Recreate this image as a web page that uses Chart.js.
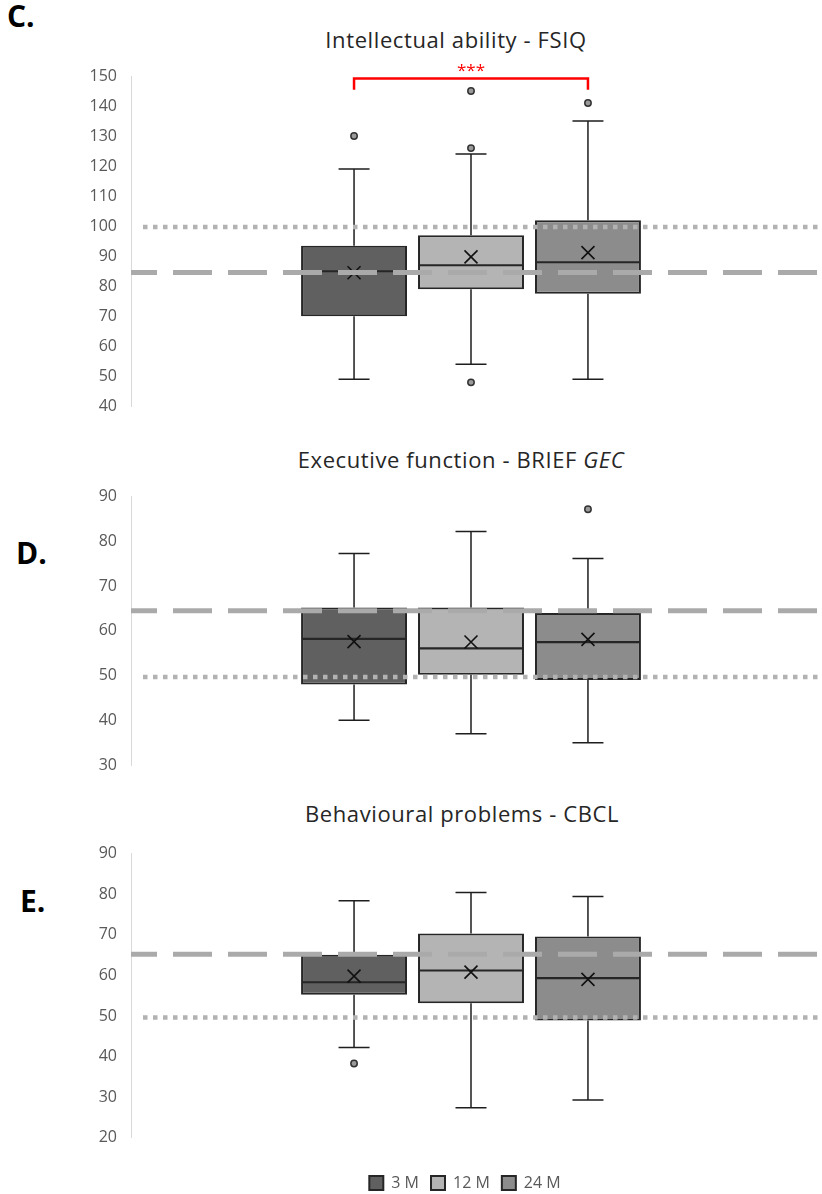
<!DOCTYPE html>
<html><head><meta charset="utf-8">
<script src="https://cdn.jsdelivr.net/npm/chart.js@4.4.1/dist/chart.umd.min.js"></script>
<style>
html,body{margin:0;padding:0;width:822px;height:1194px;overflow:hidden;background:#fff;}
.cv{position:absolute;left:0;}
.ttl{position:absolute;font-family:'Open Sans',sans-serif;font-size:22px;line-height:22px;color:#262626;white-space:nowrap;transform:translateX(-50%);letter-spacing:0.6px;}
.lbl{position:absolute;font-family:'Open Sans',sans-serif;font-weight:700;font-size:30px;line-height:30px;color:#000;}
</style></head><body>
<div class="lbl" style="left:7px;top:1px">C.</div>
<div class="lbl" style="left:16px;top:538px">D.</div>
<div class="lbl" style="left:20px;top:886px">E.</div>
<div class="ttl" style="left:456px;top:28px">Intellectual ability - FSIQ</div>
<div class="ttl" style="left:461px;top:448px">Executive function - BRIEF <i>GEC</i></div>
<div class="ttl" style="left:462px;top:802px">Behavioural problems - CBCL</div>
<canvas id="cC" class="cv" width="822" height="380" style="top:50px"></canvas>
<canvas id="cD" class="cv" width="822" height="320" style="top:470px"></canvas>
<canvas id="cE" class="cv" width="822" height="380" style="top:830px"></canvas>
<script>
// ---------- data ----------
const groups = ['3 M', '12 M', '24 M'];

// C. Intellectual ability - FSIQ
const fsiqTicks = [40, 50, 60, 70, 80, 90, 100, 110, 120, 130, 140, 150];
const fsiqMin = [49, 54, 49];
const fsiqQ1 = [70, 79, 77.5];
const fsiqMedian = [85, 87, 88];
const fsiqQ3 = [93.5, 97, 102];
const fsiqMax = [119, 124, 135];
const fsiqMean = [84.5, 89.8, 91.2];
const fsiqOutliers = [[130], [145, 126, 48], [141]];
const fsiqDotted = 99.7;
const fsiqDashed = 84.6;

// D. Executive function - BRIEF GEC
const briefTicks = [30, 40, 50, 60, 70, 80, 90];
const briefMin = [40, 37, 35];
const briefQ1 = [48, 50.2, 49];
const briefMedian = [58.2, 56.1, 57.5];
const briefQ3 = [65.2, 65.2, 64];
const briefMax = [77.3, 82.2, 76.2];
const briefMean = [57.6, 57.5, 58.1];
const briefOutliers = [[], [], [87.2]];
const briefDotted = 49.7;
const briefDashed = 64.5;

// E. Behavioural problems - CBCL
const cbclTicks = [20, 30, 40, 50, 60, 70, 80, 90];
const cbclMin = [42.2, 27.4, 29.3];
const cbclQ1 = [55.2, 53.1, 48.9];
const cbclMedian = [58.3, 61.2, 59.3];
const cbclQ3 = [65.1, 70.3, 69.6];
const cbclMax = [78.4, 80.4, 79.4];
const cbclMean = [59.8, 60.8, 59.0];
const cbclOutliers = [[38.3], [], []];
const cbclDotted = 49.6;
const cbclDashed = 65.2;

// significance bracket (C): between 3 M and 24 M
const sigPair = [0, 2];
const sigLabel = '***';

// ---------- styles ----------
const FILLS = ['#606060', '#b4b4b4', '#8c8c8c'];
const EDGE = '#262626';
const FONT = "'Open Sans', sans-serif";

function boxPlugin(st) {
  return {
    id: 'boxExtras',
    beforeDraw(chart) {
      // nudge the legend a little left, as in the reference
      const lg = chart.legend;
      if (lg && lg.options.display && !lg._nudged) {
        lg.left -= 6; lg.right -= 6; lg._nudged = true;
      }
    },
    afterDatasetsDraw(chart) {
      const ctx = chart.ctx, ys = chart.scales.y, ca = chart.chartArea;
      const Y = v => ys.getPixelForValue(v);
      const CAP = 15.5;
      ctx.save();
      st.q1.forEach((_, i) => {
        const bar = chart.getDatasetMeta(i).data[0];
        const x = bar.x, hw = bar.width / 2;
        ctx.setLineDash([]);
        ctx.strokeStyle = '#1e1e1e';
        ctx.lineWidth = 1.5;
        ctx.beginPath();
        ctx.moveTo(x, Y(st.q3[i])); ctx.lineTo(x, Y(st.max[i]));
        ctx.moveTo(x - CAP, Y(st.max[i])); ctx.lineTo(x + CAP, Y(st.max[i]));
        ctx.moveTo(x, Y(st.q1[i])); ctx.lineTo(x, Y(st.min[i]));
        ctx.moveTo(x - CAP, Y(st.min[i])); ctx.lineTo(x + CAP, Y(st.min[i]));
        ctx.stroke();
        // median
        ctx.strokeStyle = EDGE;
        ctx.lineWidth = 2.2;
        ctx.beginPath();
        ctx.moveTo(x - hw + 1, Y(st.median[i])); ctx.lineTo(x + hw - 1, Y(st.median[i]));
        ctx.stroke();
        // mean X
        const my = Y(st.mean[i]), s = 6.5;
        ctx.strokeStyle = '#111';
        ctx.lineWidth = 1.6;
        ctx.beginPath();
        ctx.moveTo(x - s, my - s); ctx.lineTo(x + s, my + s);
        ctx.moveTo(x + s, my - s); ctx.lineTo(x - s, my + s);
        ctx.stroke();
        // outliers
        st.outliers[i].forEach(v => {
          ctx.beginPath();
          ctx.arc(x, Y(v), 3.2, 0, Math.PI * 2);
          ctx.fillStyle = '#9a9a9a';
          ctx.fill();
          ctx.strokeStyle = '#333';
          ctx.lineWidth = 1.5;
          ctx.stroke();
        });
      });
      // reference lines (drawn over the boxes)
      ctx.lineCap = 'butt';
      ctx.strokeStyle = '#b2b2b2';
      ctx.lineWidth = 4.5;
      ctx.setLineDash([4.5, 5.5]);
      ctx.beginPath();
      ctx.moveTo(ca.left + 12, Y(st.dotted)); ctx.lineTo(chart.width, Y(st.dotted));
      ctx.stroke();
      ctx.strokeStyle = '#aaaaaa';
      ctx.lineWidth = 5;
      ctx.setLineDash([39, 16]);
      ctx.lineDashOffset = 13;
      ctx.beginPath();
      ctx.moveTo(ca.left, Y(st.dashed)); ctx.lineTo(chart.width, Y(st.dashed));
      ctx.stroke();
      ctx.setLineDash([]);
      ctx.lineDashOffset = 0;
      // significance bracket
      if (st.sig) {
        const xa = chart.getDatasetMeta(st.sig.pair[0]).data[0].x;
        const xb = chart.getDatasetMeta(st.sig.pair[1]).data[0].x;
        const yt = Y(st.sig.top), yl = Y(st.sig.leg);
        ctx.strokeStyle = '#ff0000';
        ctx.lineWidth = 2.5;
        ctx.lineJoin = 'miter';
        ctx.beginPath();
        ctx.moveTo(xa, yl); ctx.lineTo(xa, yt); ctx.lineTo(xb, yt); ctx.lineTo(xb, yl);
        ctx.stroke();
        ctx.fillStyle = '#ff0000';
        ctx.font = '17px ' + FONT;
        ctx.textAlign = 'center';
        ctx.textBaseline = 'alphabetic';
        ctx.fillText(st.sig.label, (xa + xb) / 2, Y(st.sig.textAt));
      }
      ctx.restore();
    }
  };
}

function makeChart(id, st, ticks, pad, legend, xAxisH) {
  return new Chart(document.getElementById(id), {
    type: 'bar',
    data: {
      labels: [''],
      datasets: groups.map((g, i) => ({
        label: g,
        data: [[st.q1[i], st.q3[i]]],
        backgroundColor: FILLS[i],
        borderColor: EDGE,
        borderWidth: 2,
        borderSkipped: false,
        categoryPercentage: 0.516,
        barPercentage: 0.906
      }))
    },
    options: {
      responsive: false,
      animation: false,
      events: [],
      layout: { padding: { top: pad[0], bottom: pad[1], left: 76, right: 11 } },
      plugins: {
        title: { display: false },
        tooltip: { enabled: false },
        legend: {
          display: legend,
          position: 'bottom',
          fullSize: false,
          labels: { color: '#595959', font: { family: FONT, size: 16 }, boxWidth: 14, boxHeight: 14, padding: 12 }
        }
      },
      scales: {
        x: {
          display: xAxisH > 0,
          grid: { display: false },
          border: { display: false },
          ticks: { display: false },
          afterFit: s => { s.height = xAxisH; }
        },
        y: {
          min: ticks[0],
          max: ticks[ticks.length - 1],
          ticks: { stepSize: ticks[1] - ticks[0], padding: 14, color: '#595959', font: { family: FONT, size: 16 } },
          grid: { display: false, drawTicks: false },
          border: { display: true, color: '#d9d9d9', width: 1 },
          afterFit: s => { s.width = 55; }
        }
      }
    },
    plugins: [boxPlugin(st)]
  });
}

makeChart('cC', {
  min: fsiqMin, q1: fsiqQ1, median: fsiqMedian, q3: fsiqQ3, max: fsiqMax, mean: fsiqMean,
  outliers: fsiqOutliers, dotted: fsiqDotted, dashed: fsiqDashed,
  sig: { pair: sigPair, top: 149.2, leg: 145.4, textAt: 150.1, label: sigLabel }
}, fsiqTicks, [26, 18.3], false, 0);

makeChart('cD', {
  min: briefMin, q1: briefQ1, median: briefMedian, q3: briefQ3, max: briefMax, mean: briefMean,
  outliers: briefOutliers, dotted: briefDotted, dashed: briefDashed
}, briefTicks, [26.7, 25], false, 0);

makeChart('cE', {
  min: cbclMin, q1: cbclQ1, median: cbclMedian, q3: cbclQ3, max: cbclMax, mean: cbclMean,
  outliers: cbclOutliers, dotted: cbclDotted, dashed: cbclDashed
}, cbclTicks, [20, 9], true, 25.3);
</script>
</body></html>
